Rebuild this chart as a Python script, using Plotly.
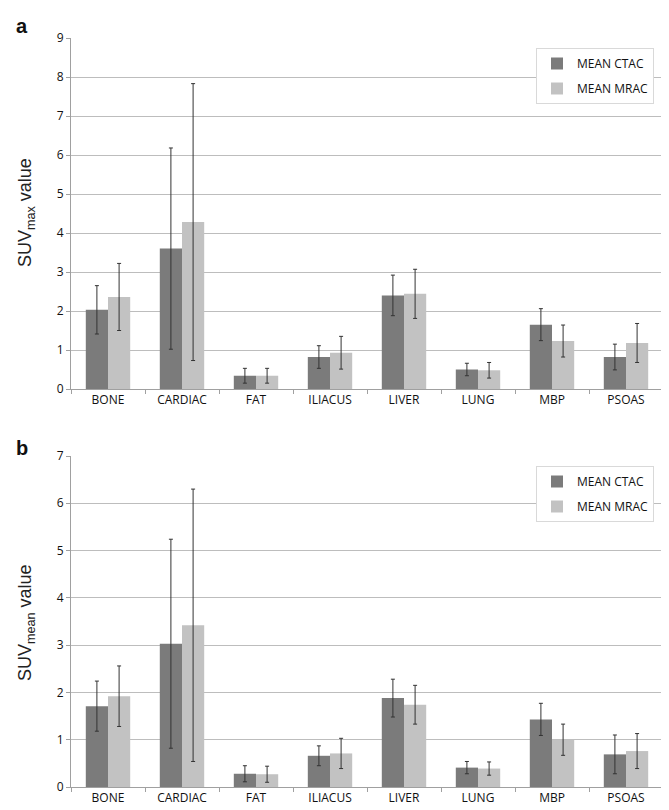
import plotly.graph_objects as go

categories = ["BONE", "CARDIAC", "FAT", "ILIACUS", "LIVER", "LUNG", "MBP", "PSOAS"]

# Panel a: SUVmax
max_ctac = [2.03, 3.60, 0.34, 0.82, 2.40, 0.50, 1.65, 0.82]
max_ctac_err = [0.62, 2.58, 0.19, 0.29, 0.52, 0.16, 0.41, 0.33]
max_mrac = [2.36, 4.28, 0.34, 0.93, 2.44, 0.48, 1.23, 1.18]
max_mrac_err = [0.86, 3.55, 0.19, 0.42, 0.63, 0.20, 0.41, 0.50]

# Panel b: SUVmean
mean_ctac = [1.71, 3.03, 0.28, 0.66, 1.88, 0.41, 1.43, 0.69]
mean_ctac_err = [0.53, 2.21, 0.17, 0.21, 0.40, 0.13, 0.34, 0.41]
mean_mrac = [1.92, 3.42, 0.27, 0.71, 1.74, 0.39, 1.00, 0.76]
mean_mrac_err = [0.64, 2.88, 0.17, 0.32, 0.41, 0.14, 0.33, 0.37]

series_names = ["MEAN CTAC", "MEAN MRAC"]
dark = "#7b7b7b"
light = "#c2c2c2"
tick_font = dict(family="Open Sans, Liberation Sans, sans-serif", size=12, color="#111")

fig = go.Figure()

def add_panel(vals1, err1, vals2, err2, xa, ya, leg):
    for i, (name, vals, err, col) in enumerate([(series_names[0], vals1, err1, dark),
                                                (series_names[1], vals2, err2, light)]):
        fig.add_trace(go.Bar(
            x=categories, y=vals, name=name, marker=dict(color=col, line=dict(width=0)),
            error_y=dict(type="data", array=err, visible=True, color="#333", thickness=1, width=2),
            xaxis=xa, yaxis=ya, legend=leg, legendgroup=leg + str(i),
        ))

add_panel(max_ctac, max_ctac_err, max_mrac, max_mrac_err, "x", "y", "legend")
add_panel(mean_ctac, mean_ctac_err, mean_mrac, mean_mrac_err, "x2", "y2", "legend2")

H = 810
top_px, bot_px = 30, 779
ph = bot_px - top_px
def frac(py):
    return (bot_px - py) / ph

xaxis_common = dict(type="category", showline=True, linecolor="#a0a0a0", linewidth=1,
                    ticks="outside", tickson="boundaries", ticklen=4, tickcolor="#a0a0a0",
                    tickfont=tick_font, showgrid=False, zeroline=False)
yaxis_common = dict(showline=True, linecolor="#a0a0a0", linewidth=1, ticks="outside", ticklen=4,
                    tickcolor="#a0a0a0", showgrid=True, gridcolor="#bdbdbd", gridwidth=1,
                    tickfont=tick_font, zeroline=False, dtick=1)

legend_common = dict(bgcolor="white", bordercolor="#d9d9d9", borderwidth=1,
                     font=dict(family="Open Sans, Liberation Sans, sans-serif", size=12, color="#111"),
                     xanchor="right", yanchor="top", itemwidth=30, tracegroupgap=6)

fig.update_layout(
    width=669, height=H,
    margin=dict(l=63, r=14, t=top_px, b=H - bot_px),
    paper_bgcolor="white", plot_bgcolor="white",
    barmode="group", bargap=0.4, bargroupgap=0,
    xaxis=dict(**xaxis_common, domain=[0, 1], anchor="y"),
    yaxis=dict(**yaxis_common, domain=[frac(381), 1], range=[0, 9], anchor="x"),
    xaxis2=dict(**xaxis_common, domain=[0, 1], anchor="y2"),
    yaxis2=dict(**yaxis_common, domain=[0, frac(448)], range=[0, 7], anchor="x2"),
    legend=dict(**legend_common, x=(646 - 63) / 592, y=frac(40)),
    legend2=dict(**legend_common, x=(646 - 63) / 592, y=frac(458)),
    showlegend=True,
)

title_font = dict(family="Liberation Sans, Arial, sans-serif", size=18, color="#222")
fig.add_annotation(text="SUV<sub>max</sub> value", xref="paper", yref="paper",
                   x=(18 - 63) / 592, y=frac(205), textangle=-90, showarrow=False,
                   font=title_font, xanchor="center", yanchor="middle")
fig.add_annotation(text="SUV<sub>mean</sub> value", xref="paper", yref="paper",
                   x=(18 - 63) / 592, y=frac(615), textangle=-90, showarrow=False,
                   font=title_font, xanchor="center", yanchor="middle")
letter_font = dict(family="Liberation Sans, Arial, sans-serif", size=20, color="#111")
fig.add_annotation(text="<b>a</b>", xref="paper", yref="paper", x=(14 - 63) / 592, y=frac(18),
                   showarrow=False, font=letter_font, xanchor="center", yanchor="middle")
fig.add_annotation(text="<b>b</b>", xref="paper", yref="paper", x=(14 - 63) / 592, y=frac(440),
                   showarrow=False, font=letter_font, xanchor="center", yanchor="middle")

fig.write_html("out.html")
